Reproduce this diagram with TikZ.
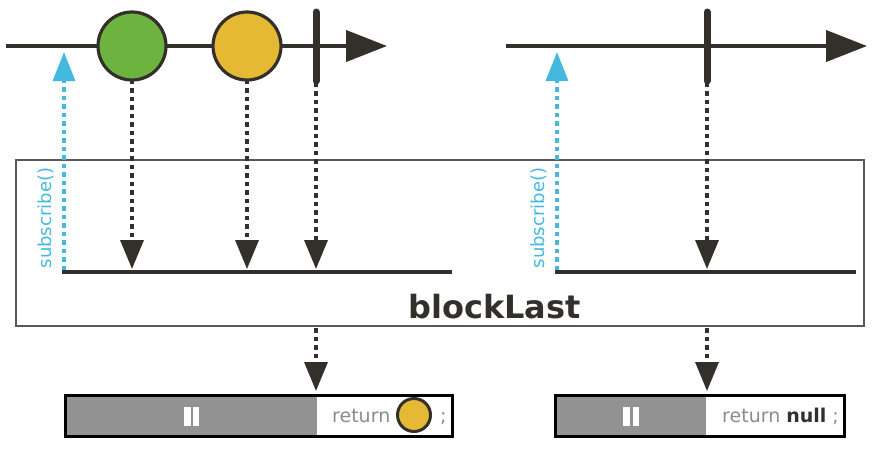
\documentclass[tikz,border=0pt]{standalone}
\usepackage{fontspec}
\setmainfont{DejaVu Sans}
\usetikzlibrary{arrows.meta}
\definecolor{ink}{HTML}{33302B}
\definecolor{sky}{HTML}{45B8DF}
\definecolor{leaf}{HTML}{6DB33F}
\definecolor{sun}{HTML}{E6B934}
\definecolor{pausegray}{HTML}{929292}
\definecolor{txtgray}{HTML}{8C8C8C}
\tikzset{
  timeline/.style={draw=ink, line width=4pt, -{Triangle[length=41pt,width=31pt]}},
  marble/.style={circle, draw=ink, line width=3.2pt, minimum size=68pt, inner sep=0pt},
  stopbar/.style={draw=ink, line width=7pt, line cap=round},
  dotline/.style={draw=ink, line width=3.4pt, dash pattern=on 4.5pt off 4pt, -{Triangle[length=29pt,width=23pt]}},
  subline/.style={draw=sky, line width=3.4pt, dash pattern=on 4.5pt off 4pt, -{Triangle[length=29pt,width=22pt]}},
  subtext/.style={text=sky, rotate=90, font=\fontsize{18}{21}\selectfont, inner sep=0pt},
  opbox/.style={draw=black!65, line width=1.5pt},
  baseline/.style={draw=ink, line width=3.2pt},
  resultbox/.style={draw=black, line width=3pt},
  rettext/.style={text=txtgray, font=\fontsize{19}{22}\selectfont, inner sep=0pt, anchor=base west}
}
\begin{document}
\begin{tikzpicture}[x=1pt,y=-1pt]
\useasboundingbox (0,0) rectangle (874,448);
% ---------- left marble diagram ----------
\coordinate (l1s) at (6,46);
\coordinate (l1e) at (387,46);
\draw[timeline] (l1s) -- (l1e);
\node[marble, fill=leaf] (g) at (132,46) {};
\node[marble, fill=sun] (y) at (247,46) {};
\coordinate (b1t) at (316,12);
\coordinate (b1b) at (316,81);
\draw[stopbar] (b1t) -- (b1b);
% ---------- right marble diagram ----------
\coordinate (l2s) at (506,46);
\coordinate (l2e) at (867,46);
\draw[timeline] (l2s) -- (l2e);
\coordinate (b2t) at (707,12);
\coordinate (b2b) at (707,81);
\draw[stopbar] (b2t) -- (b2b);
% ---------- operator box ----------
\node[opbox, minimum width=848pt, minimum height=166pt, inner sep=0pt] (op) at (440,243) {};
\node[text=ink, font=\bfseries\fontsize{32}{38}\selectfont, anchor=base, inner sep=0pt] (lbl) at (494.5,318) {blockLast};
% inner lines
\coordinate (i1s) at (62,272);
\coordinate (i1e) at (452,272);
\draw[baseline] (i1s) -- (i1e);
\coordinate (i2s) at (555,272);
\coordinate (i2e) at (856,272);
\draw[baseline] (i2s) -- (i2e);
% subscribe arrows
\coordinate (s1b) at (64,270);
\coordinate (s1t) at (64,52);
\draw[subline] (s1b) -- (s1t);
\node[subtext] (st1) at (46,218) {subscribe()};
\coordinate (s2b) at (557,270);
\coordinate (s2t) at (557,52);
\draw[subline] (s2b) -- (s2t);
\node[subtext] (st2) at (539,218) {subscribe()};
% emission arrows
\coordinate (e1) at (132,269);
\coordinate (e2) at (247,269);
\coordinate (e3) at (316,269);
\coordinate (e4) at (707,269);
\draw[dotline] ([yshift=2pt]g.south) -- (e1);
\draw[dotline] ([yshift=2pt]y.south) -- (e2);
\draw[dotline] ([yshift=7pt]b1b) -- (e3);
\draw[dotline] ([yshift=7pt]b2b) -- (e4);
% ---------- results ----------
\coordinate (o1s) at (316,328);
\coordinate (o1e) at (316,391);
\coordinate (o2s) at (707,328);
\coordinate (o2e) at (707,391);
\draw[dotline] (o1s) -- (o1e);
\draw[dotline] (o2s) -- (o2e);
% left result box
\fill[pausegray] (65,395) rectangle (317,436);
\fill[white] (184,407) rectangle (190.5,426);
\fill[white] (193,407) rectangle (199,426);
\node[rettext] (r1) at (332,422) {return};
\node[circle, draw=ink, fill=sun, line width=3pt, minimum size=33pt, inner sep=0pt] (yc) at (414,415) {};
\node[rettext] (sc1) at (440,422) {;};
\draw[resultbox] (65,395) rectangle (452,436);
% right result box
\fill[pausegray] (555,395) rectangle (706,436);
\fill[white] (623,407) rectangle (629.5,426);
\fill[white] (633,407) rectangle (639,426);
\node[rettext] (r2) at (722,422) {return \textcolor{ink}{\bfseries null} ;};
\draw[resultbox] (555,395) rectangle (844,436);
\end{tikzpicture}
\end{document}
